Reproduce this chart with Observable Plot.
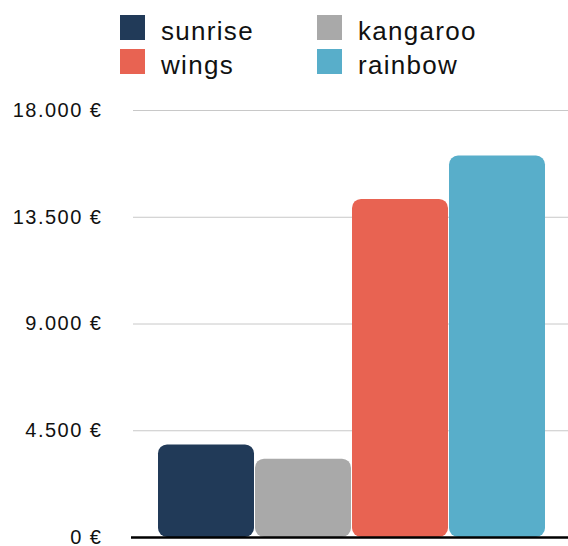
<!DOCTYPE html>
<html>
<head>
<meta charset="utf-8">
<script src="https://cdn.jsdelivr.net/npm/d3@7"></script>
<script src="https://cdn.jsdelivr.net/npm/@observablehq/plot@0.6"></script>
<style>
  html, body { margin: 0; padding: 0; background: #fff; }
  #wrap { width: 568px; height: 546px; position: relative; font-family: "Liberation Sans", Arial, Helvetica, sans-serif; }
  #legend { height: 85px; box-sizing: border-box; padding: 15px 0 0 120px; display: grid; grid-template-columns: 197px 200px; row-gap: 9px; grid-auto-rows: 25px; }
  .item { display: flex; align-items: center; font-size: 26px; letter-spacing: 1.3px; color: #111; line-height: 25px; }
  .item .lbl { position: relative; top: 4px; }
  .sw { width: 25px; height: 25px; margin-right: 16px; flex: none; }
  #chart svg { display: block; }
  #chart svg text { letter-spacing: 1.5px; }
</style>
</head>
<body>
<div id="wrap">
  <div id="legend"></div>
  <div id="chart"></div>
</div>
<script>
const categories = ["sunrise", "kangaroo", "wings", "rainbow"];
const values = [3900, 3300, 14250, 16080];
const colors = ["#213A58", "#A9A9A9", "#E86352", "#58AECA"];
const legendOrder = ["sunrise", "kangaroo", "wings", "rainbow"];
const yTicks = [0, 4500, 9000, 13500, 18000];

const data = categories.map((c, i) => ({category: c, value: values[i]}));

const fmt = d3.formatLocale({decimal: ",", thousands: ".", grouping: [3], currency: ["", " €"]}).format("$,.0f");

const legend = document.getElementById("legend");
legendOrder.forEach(c => {
  const i = categories.indexOf(c);
  const el = document.createElement("div");
  el.className = "item";
  el.innerHTML = `<span class="sw" style="background:${colors[i]}"></span><span class="lbl">${c}</span>`;
  legend.appendChild(el);
});

const chart = Plot.plot({
  width: 568,
  height: 461,
  marginTop: 25,
  marginBottom: 9,
  marginLeft: 133,
  marginRight: 0,
  style: {fontFamily: "'Liberation Sans', Arial, Helvetica, sans-serif", fontSize: "20px", color: "#111", background: "#fff", overflow: "visible"},
  x: {domain: categories, range: [155, 548], padding: 0.012, axis: null},
  y: {domain: [0, 18000], axis: null},
  color: {domain: categories, range: colors},
  marks: [
    Plot.ruleY(yTicks.filter(d => d > 0), {stroke: "#c8c8c8", strokeWidth: 1}),
    Plot.axisY(yTicks, {tickSize: 0, tickPadding: 31, tickFormat: fmt, fontSize: 20, fill: "#111", label: null}),
    Plot.barY(data, {x: "category", y: "value", fill: "category", rx: 9}),
    Plot.ruleY([0], {stroke: "#000", strokeWidth: 2.5, insetLeft: -2})
  ]
});
document.getElementById("chart").appendChild(chart);
</script>
</body>
</html>
